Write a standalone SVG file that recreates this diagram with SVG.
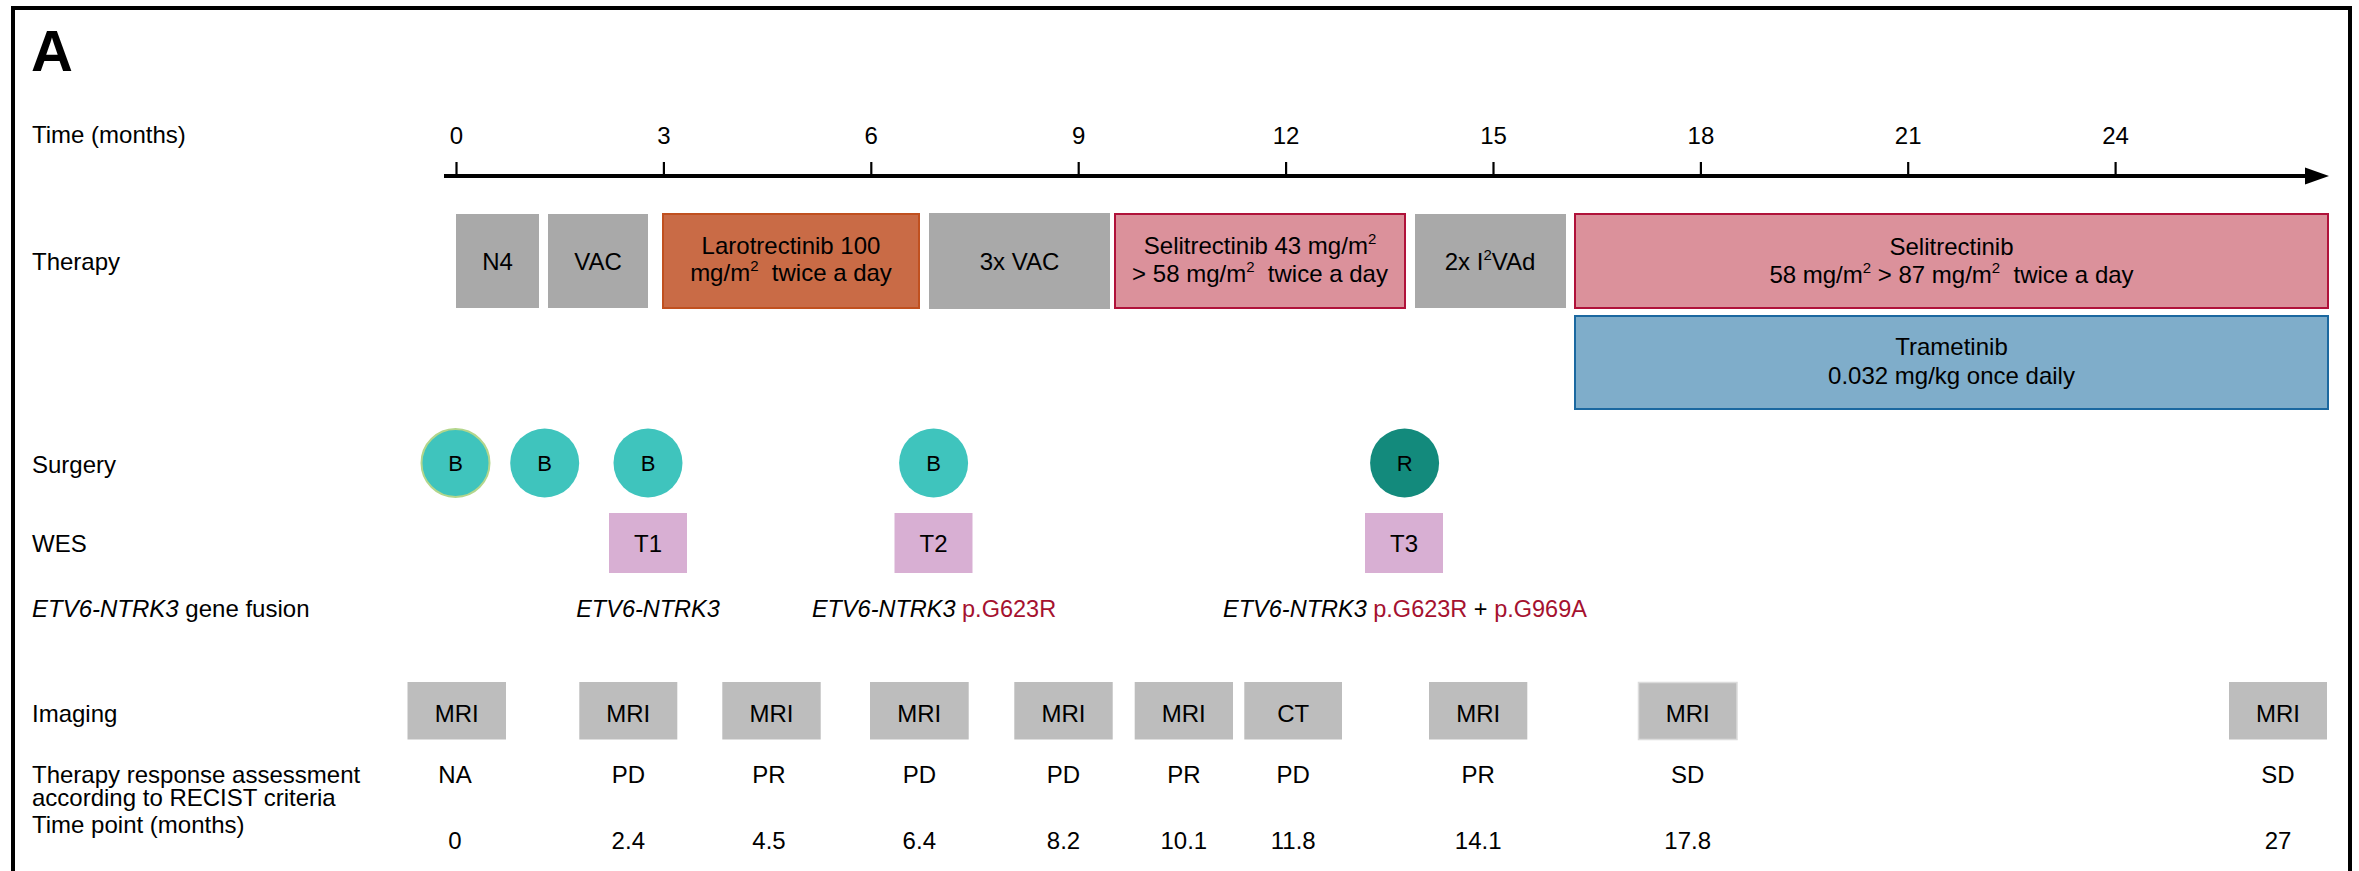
<svg xmlns="http://www.w3.org/2000/svg" width="2359" height="871" viewBox="0 0 2359 871">
<style>
text { font-family: "Liberation Sans", Arial, sans-serif; font-size: 24px; fill: #000; }
.c { text-anchor: middle; }
.tick { font-size: 22px; }
.grey { fill: #a9a9a9; }
.img { fill: #bdbdbd; }
.laro { fill: #c96b46; stroke: #c0501f; stroke-width: 2; }
.seli { fill: #db919b; stroke: #b0123a; stroke-width: 2; }
.tram { fill: #7fadca; stroke: #1b68a0; stroke-width: 2; }
.bio { fill: #3fc4bd; }
.res { fill: #138a7c; }
.wes { fill: #d8afd3; }
.red { fill: #a5112f; }
.it { font-style: italic; }
</style>

<rect x="13" y="8" width="2337" height="900" fill="none" stroke="#000" stroke-width="4"/>
<text x="31" y="71" style="font-size:58px;font-weight:bold">A</text>

<g id="row-labels">
<text x="32" y="143">Time (months)</text>
<text x="32" y="270">Therapy</text>
<text x="32" y="473">Surgery</text>
<text x="32" y="552">WES</text>
<text x="32" y="617"><tspan class="it">ETV6-NTRK3</tspan> gene fusion</text>
<text x="32" y="722">Imaging</text>
<text x="32" y="783">Therapy response assessment</text>
<text x="32" y="806">according to RECIST criteria</text>
<text x="32" y="833">Time point (months)</text>
</g>

<g id="connectors">
<line x1="444" y1="176" x2="2310" y2="176" stroke="#000" stroke-width="4"/>
<polygon points="2305,167.5 2329,176 2305,184.5" fill="#000"/>
<g stroke="#000" stroke-width="2.2">
<line x1="456.5" y1="162" x2="456.5" y2="176"/>
<line x1="663.9" y1="162" x2="663.9" y2="176"/>
<line x1="871.3" y1="162" x2="871.3" y2="176"/>
<line x1="1078.7" y1="162" x2="1078.7" y2="176"/>
<line x1="1286.1" y1="162" x2="1286.1" y2="176"/>
<line x1="1493.5" y1="162" x2="1493.5" y2="176"/>
<line x1="1700.9" y1="162" x2="1700.9" y2="176"/>
<line x1="1908.2" y1="162" x2="1908.2" y2="176"/>
<line x1="2115.6" y1="162" x2="2115.6" y2="176"/>
</g>
</g>

<g id="axis-labels" class="c tick">
<text x="456.5" y="144">0</text>
<text x="663.9" y="144">3</text>
<text x="871.3" y="144">6</text>
<text x="1078.7" y="144">9</text>
<text x="1286.1" y="144">12</text>
<text x="1493.5" y="144">15</text>
<text x="1700.9" y="144">18</text>
<text x="1908.2" y="144">21</text>
<text x="2115.6" y="144">24</text>
</g>

<g id="therapy-n4">
<rect class="grey" x="456" y="214" width="83" height="94"/>
<text class="c" x="497.5" y="270">N4</text>
</g>
<g id="therapy-vac">
<rect class="grey" x="548" y="214" width="100" height="94"/>
<text class="c" x="598" y="270">VAC</text>
</g>
<g id="therapy-larotrectinib">
<rect class="laro" x="663" y="214" width="256" height="94"/>
<text class="c" x="791" y="254">Larotrectinib 100</text>
<text class="c" x="791" y="281">mg/m<tspan dy="-10" font-size="15">2</tspan><tspan dy="10">&#160; twice a day</tspan></text>
</g>
<g id="therapy-3xvac">
<rect class="grey" x="929" y="213" width="181" height="96"/>
<text class="c" x="1019.5" y="270">3x VAC</text>
</g>
<g id="therapy-selitrectinib-1">
<rect class="seli" x="1115" y="214" width="290" height="94"/>
<text class="c" x="1260" y="254">Selitrectinib 43 mg/m<tspan dy="-10" font-size="15">2</tspan></text>
<text class="c" x="1260" y="282">&gt; 58 mg/m<tspan dy="-10" font-size="15">2</tspan><tspan dy="10">&#160; twice a day</tspan></text>
</g>
<g id="therapy-2xi2vad">
<rect class="grey" x="1415" y="214" width="151" height="94"/>
<text class="c" x="1490" y="270">2x I<tspan dy="-10" font-size="15">2</tspan><tspan dy="10">VAd</tspan></text>
</g>
<g id="therapy-selitrectinib-2">
<rect class="seli" x="1575" y="214" width="753" height="94"/>
<text class="c" x="1951.5" y="255">Selitrectinib</text>
<text class="c" x="1951.5" y="283">58 mg/m<tspan dy="-10" font-size="15">2</tspan><tspan dy="10"> &gt; 87 mg/m</tspan><tspan dy="-10" font-size="15">2</tspan><tspan dy="10">&#160; twice a day</tspan></text>
</g>
<g id="therapy-trametinib">
<rect class="tram" x="1575" y="316" width="753" height="93"/>
<text class="c" x="1951.5" y="355">Trametinib</text>
<text class="c" x="1951.5" y="384">0.032 mg/kg once daily</text>
</g>

<g id="surgery-b1">
<circle class="bio" cx="455.5" cy="463" r="34" stroke="#b3d68c" stroke-width="2"/>
<text class="c" x="455.5" y="471" style="font-size:22px">B</text>
</g>
<g id="surgery-b2">
<circle class="bio" cx="544.7" cy="463" r="34.5"/>
<text class="c" x="544.7" y="471" style="font-size:22px">B</text>
</g>
<g id="surgery-b3">
<circle class="bio" cx="648" cy="463" r="34.5"/>
<text class="c" x="648" y="471" style="font-size:22px">B</text>
</g>
<g id="surgery-b4">
<circle class="bio" cx="933.6" cy="463" r="34.5"/>
<text class="c" x="933.6" y="471" style="font-size:22px">B</text>
</g>
<g id="surgery-r">
<circle class="res" cx="1404.6" cy="463" r="34.5"/>
<text class="c" x="1404.6" y="471" style="font-size:22px">R</text>
</g>

<g id="wes-t1">
<rect class="wes" x="609" y="513" width="78" height="60"/>
<text class="c" x="648" y="552">T1</text>
</g>
<g id="wes-t2">
<rect class="wes" x="894.5" y="513" width="78" height="60"/>
<text class="c" x="933.5" y="552">T2</text>
</g>
<g id="wes-t3">
<rect class="wes" x="1365" y="513" width="78" height="60"/>
<text class="c" x="1404" y="552">T3</text>
</g>

<g id="fusion">
<text class="c it" x="648" y="617" style="font-size:23.5px">ETV6-NTRK3</text>
<text class="c" x="934" y="617" style="font-size:23.5px"><tspan class="it">ETV6-NTRK3</tspan> <tspan class="red">p.G623R</tspan></text>
<text class="c" x="1405" y="617" style="font-size:23.5px"><tspan class="it">ETV6-NTRK3</tspan> <tspan class="red">p.G623R</tspan> + <tspan class="red">p.G969A</tspan></text>
</g>

<g id="imaging">
<g id="img-0"><rect class="img" x="407.5" y="682" width="98.5" height="57.5"/><text class="c" x="456.7" y="722">MRI</text></g>
<g id="img-1"><rect class="img" x="579.3" y="682" width="98" height="57.5"/><text class="c" x="628.3" y="722">MRI</text></g>
<g id="img-2"><rect class="img" x="722.3" y="682" width="98.4" height="57.5"/><text class="c" x="771.5" y="722">MRI</text></g>
<g id="img-3"><rect class="img" x="870" y="682" width="98.7" height="57.5"/><text class="c" x="919.3" y="722">MRI</text></g>
<g id="img-4"><rect class="img" x="1014.3" y="682" width="98.4" height="57.5"/><text class="c" x="1063.5" y="722">MRI</text></g>
<g id="img-5"><rect class="img" x="1134.7" y="682" width="98.3" height="57.5"/><text class="c" x="1183.8" y="722">MRI</text></g>
<g id="img-6"><rect class="img" x="1244.3" y="682" width="97.7" height="57.5"/><text class="c" x="1293.2" y="722">CT</text></g>
<g id="img-7"><rect class="img" x="1429" y="682" width="98.3" height="57.5"/><text class="c" x="1478.2" y="722">MRI</text></g>
<g id="img-8"><rect class="img" x="1638.5" y="682.5" width="98.5" height="57" stroke="#dcdcdc" stroke-width="1.5"/><text class="c" x="1687.7" y="722">MRI</text></g>
<g id="img-9"><rect class="img" x="2229" y="682" width="98" height="57.5"/><text class="c" x="2278" y="722">MRI</text></g>
</g>

<g id="response" class="c">
<text x="455" y="783">NA</text>
<text x="628.3" y="783">PD</text>
<text x="769" y="783">PR</text>
<text x="919.3" y="783">PD</text>
<text x="1063.5" y="783">PD</text>
<text x="1183.8" y="783">PR</text>
<text x="1293.2" y="783">PD</text>
<text x="1478.2" y="783">PR</text>
<text x="1687.7" y="783">SD</text>
<text x="2278" y="783">SD</text>
</g>

<g id="timepoints" class="c">
<text x="455" y="849">0</text>
<text x="628.3" y="849">2.4</text>
<text x="769" y="849">4.5</text>
<text x="919.3" y="849">6.4</text>
<text x="1063.5" y="849">8.2</text>
<text x="1183.8" y="849">10.1</text>
<text x="1293.2" y="849">11.8</text>
<text x="1478.2" y="849">14.1</text>
<text x="1687.7" y="849">17.8</text>
<text x="2278" y="849">27</text>
</g>
</svg>
